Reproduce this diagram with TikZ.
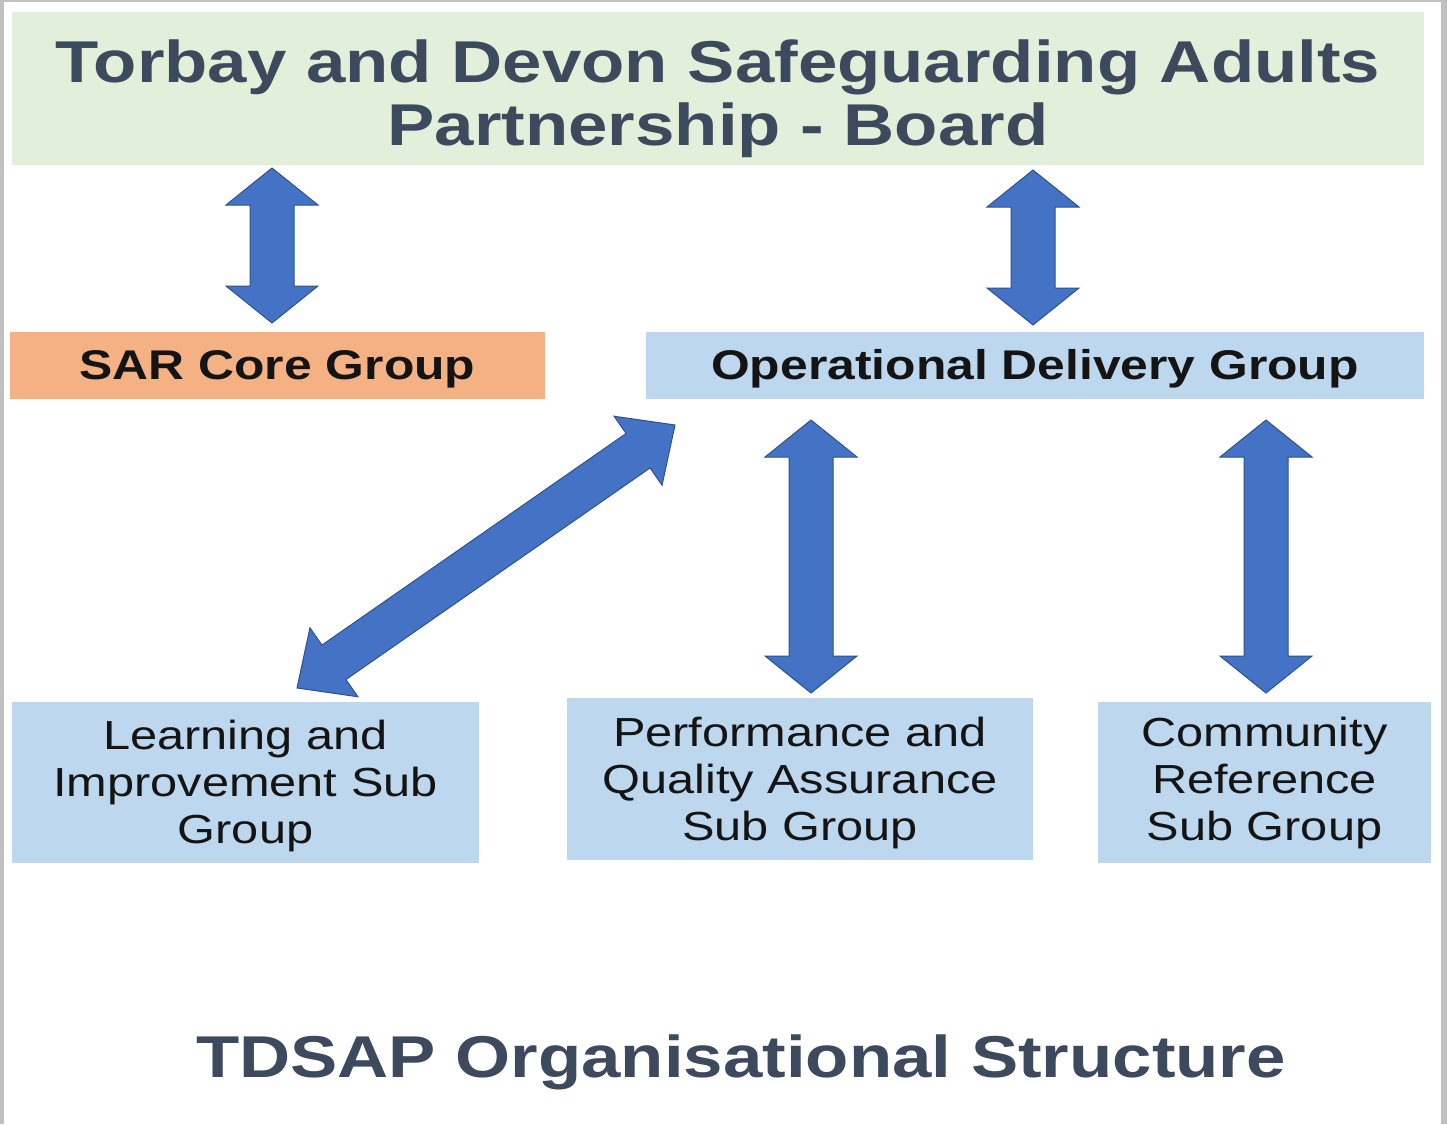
\documentclass[tikz,border=0pt]{standalone}
\usepackage{fontspec}
\setmainfont{Liberation Sans}[FakeStretch=1.2]
\usetikzlibrary{calc}
\definecolor{greenfill}{HTML}{E2EFDA}
\definecolor{orangefill}{HTML}{F4B183}
\definecolor{bluefill}{HTML}{BDD7EE}
\definecolor{arrowfill}{HTML}{4472C4}
\definecolor{arrowedge}{HTML}{2F528F}
\definecolor{titletext}{HTML}{3D4A5D}
\definecolor{boxtext}{HTML}{141414}
\definecolor{frame}{HTML}{C0C0C0}
\newcommand{\dblarrow}[5]{%
  \filldraw[fill=arrowfill, draw=arrowedge, line width=1pt, line join=miter]
  (#1) -- ($(#1)!#3!(#2)!#4!90:(#2)$) -- ($(#1)!#3!(#2)!#5!90:(#2)$)
  -- ($(#2)!#3!(#1)!#5!-90:(#1)$) -- ($(#2)!#3!(#1)!#4!-90:(#1)$)
  -- (#2) -- ($(#2)!#3!(#1)!#4!90:(#1)$) -- ($(#2)!#3!(#1)!#5!90:(#1)$)
  -- ($(#1)!#3!(#2)!#5!-90:(#2)$) -- ($(#1)!#3!(#2)!#4!-90:(#2)$) -- cycle;}
\begin{document}
\begin{tikzpicture}[x=1pt,y=-1pt,
  box/.style={inner sep=0pt, draw=none, align=center},
  titlefont/.style={font=\fontsize{59}{63}\selectfont\bfseries, text=titletext},
  headfont/.style={font=\fontsize{41.5}{47}\selectfont\bfseries, text=boxtext},
  subfont/.style={font=\fontsize{40.6}{47}\selectfont, text=boxtext}]
\useasboundingbox (0,0) rectangle (1447,1124);
\fill[white] (0,0) rectangle (1447,1124);
\fill[frame] (0,0) rectangle (4,1124);
\fill[frame] (0,0) rectangle (1447,2);
\fill[frame] (1441,0) rectangle (1447,1124);

\node[box, titlefont, fill=greenfill, minimum width=1412pt, minimum height=153pt,
  text height=113pt, text depth=0pt]
  (board) at (718,88.5) {Torbay and Devon Safeguarding Adults\\Partnership - Board};
\node[box, headfont, fill=orangefill, minimum width=535pt, minimum height=67pt,
  text height=29.8pt, text depth=0pt] (sar) at (277.5,365) {SAR Core Group};
\node[box, headfont, fill=bluefill, minimum width=778pt, minimum height=67pt,
  text height=29.8pt, text depth=0pt] (odg) at (1035,365) {Operational Delivery Group};
\node[box, subfont, fill=bluefill, minimum width=467pt, minimum height=161pt,
  text height=121pt, text depth=0pt]
  (learn) at (245.5,782.5) {Learning and\\Improvement Sub\\Group};
\node[box, subfont, fill=bluefill, minimum width=466pt, minimum height=162pt,
  text height=122pt, text depth=0pt]
  (perf) at (800,779) {Performance and\\Quality Assurance\\Sub Group};
\node[box, subfont, fill=bluefill, minimum width=333pt, minimum height=161pt,
  text height=115pt, text depth=0pt]
  (comm) at (1264.5,782.5) {Community\\Reference\\Sub Group};
\node[inner sep=0pt, titlefont, anchor=base] (caption) at (741,1077) {TDSAP Organisational Structure};

\coordinate (a1t) at (272,168);  \coordinate (a1b) at (272,323);
\coordinate (a2t) at (1033,170); \coordinate (a2b) at (1033,325);
\coordinate (a3t) at (675,425);  \coordinate (a3b) at (297,688);
\coordinate (a4t) at (811,420);  \coordinate (a4b) at (811,693);
\coordinate (a5t) at (1266,420); \coordinate (a5b) at (1266,693);

\dblarrow{a1t}{a1b}{37pt}{46pt}{22pt}
\dblarrow{a2t}{a2b}{37pt}{46pt}{22pt}
\dblarrow{a3t}{a3b}{45pt}{42pt}{21pt}
\dblarrow{a4t}{a4b}{37pt}{46pt}{22pt}
\dblarrow{a5t}{a5b}{37pt}{46pt}{22pt}
\end{tikzpicture}
\end{document}
